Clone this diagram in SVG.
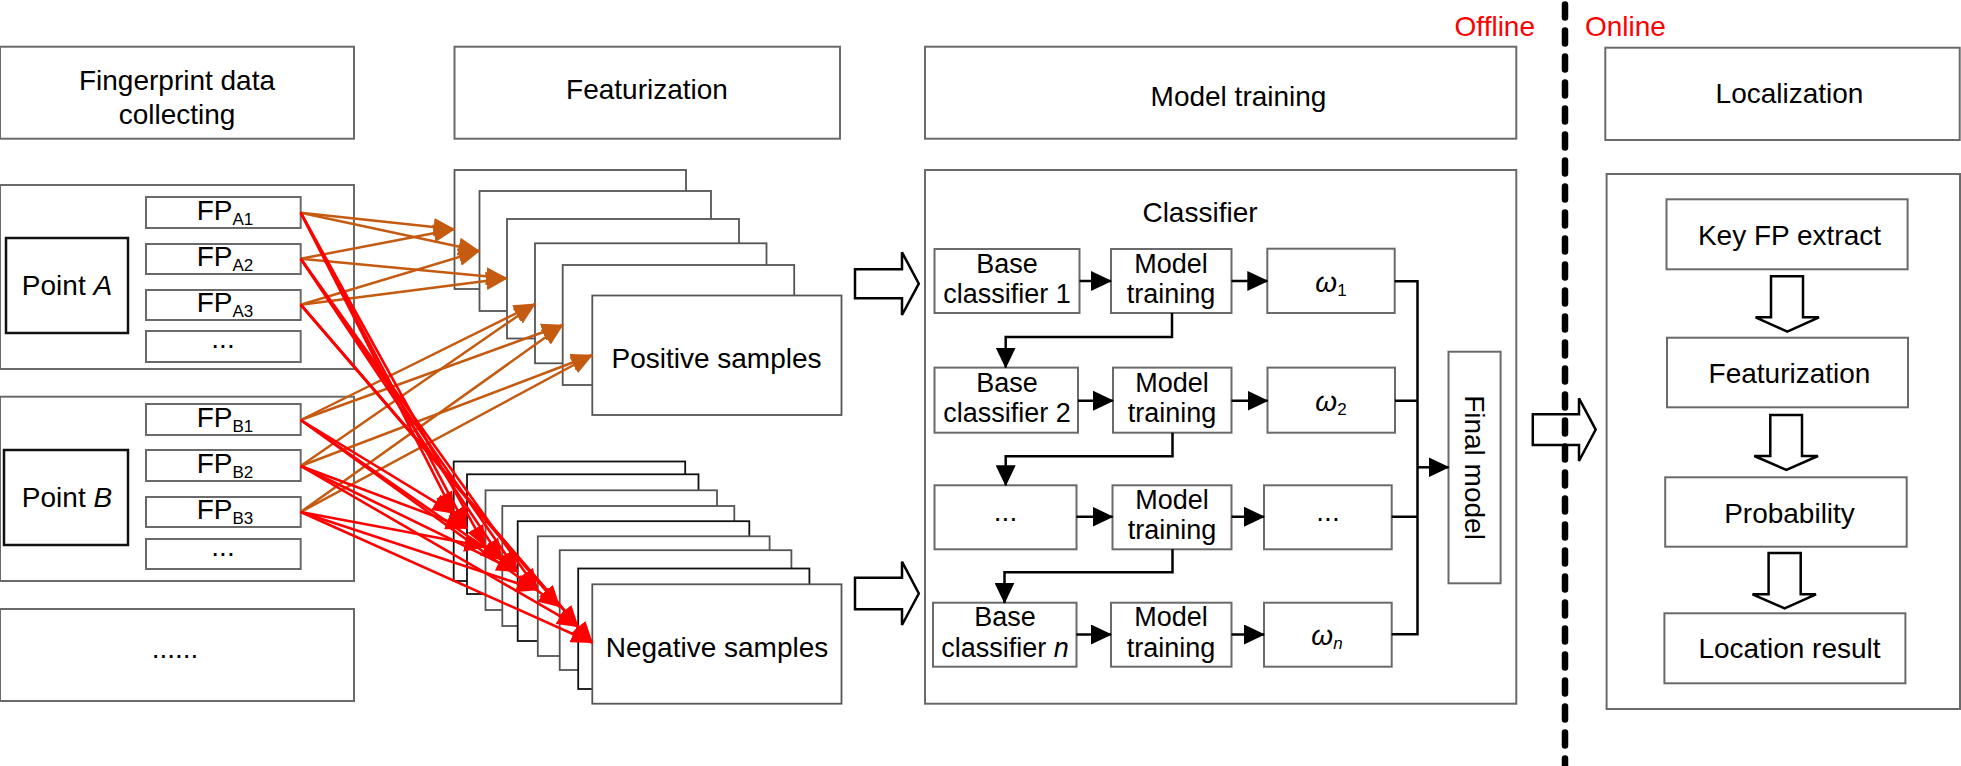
<svg xmlns="http://www.w3.org/2000/svg" width="1961" height="766" viewBox="0 0 1961 766">
<defs>
<style>
text{font-family:"Liberation Sans",Arial,Helvetica,sans-serif;font-size:28px;fill:#000}
.t2{font-size:27px}
.bx{fill:#fff;stroke:#6a6a6a;stroke-width:2}
.bk{fill:#fff;stroke:#111;stroke-width:2.5}
.st{fill:#fff;stroke:#555;stroke-width:1.8}
.c{text-anchor:middle}
.sub{font-size:17px}
.red{font-size:28px;fill:#ff0000}
.or{stroke:#c55a11;stroke-width:2.5;fill:none}
.rd{stroke:#ff0000;stroke-width:2.6;fill:none}
.blk{stroke:#000;stroke-width:2.5;fill:none}
.hol{fill:#fff;stroke:#000;stroke-width:2.5;stroke-linejoin:miter}
</style>
<marker id="mo" markerUnits="userSpaceOnUse" markerWidth="22" markerHeight="18" refX="21" refY="9" orient="auto"><path d="M0,0 L22,9 L0,18 Z" fill="#c55a11"/></marker>
<marker id="mr" markerUnits="userSpaceOnUse" markerWidth="22" markerHeight="18" refX="21" refY="9" orient="auto"><path d="M0,0 L22,9 L0,18 Z" fill="#ff0000"/></marker>
<marker id="mb" markerUnits="userSpaceOnUse" markerWidth="21" markerHeight="20" refX="20" refY="10" orient="auto"><path d="M0,0 L21,10 L0,20 Z" fill="#000"/></marker>
</defs>
<rect width="1961" height="766" fill="#fff"/>

<!-- Headers -->
<g id="h-collect"><rect class="bx" x="0" y="46.7" width="354" height="92"/><text class="c" x="177" y="90">Fingerprint data</text><text class="c" x="177" y="124">collecting</text></g>
<g id="h-feat"><rect class="bx" x="454.5" y="46.7" width="385.5" height="92"/><text class="c" x="647" y="99">Featurization</text></g>
<g id="h-train"><rect class="bx" x="925" y="46.7" width="591.3" height="92"/><text class="c" x="1238.5" y="106">Model training</text></g>
<g id="h-loc"><rect class="bx" x="1605.3" y="47.7" width="354.4" height="92.3"/><text class="c" x="1789.5" y="103.3">Localization</text></g>
<text class="red" x="1535" y="36" text-anchor="end">Offline</text>
<text class="red" x="1585" y="36">Online</text>

<!-- Point A -->
<g id="pointA">
<rect class="bx" x="0" y="185" width="354" height="184"/>
<rect class="bk" x="6" y="238" width="122" height="95"/>
<text class="c" x="67" y="295">Point <tspan font-style="italic">A</tspan></text>
<rect class="bx" x="146" y="197" width="154.7" height="31"/><text class="c" x="225" y="220">FP<tspan class="sub" dy="5">A1</tspan></text>
<rect class="bx" x="146" y="244" width="154.7" height="30"/><text class="c" x="225" y="266">FP<tspan class="sub" dy="5">A2</tspan></text>
<rect class="bx" x="146" y="290" width="154.7" height="30"/><text class="c" x="225" y="312">FP<tspan class="sub" dy="5">A3</tspan></text>
<rect class="bx" x="146" y="331" width="154.7" height="31"/><text class="c" x="223" y="348">...</text>
</g>
<!-- Point B -->
<g id="pointB">
<rect class="bx" x="0" y="396.7" width="354" height="184.3"/>
<rect class="bk" x="4" y="450" width="124" height="95"/>
<text class="c" x="67" y="507">Point <tspan font-style="italic">B</tspan></text>
<rect class="bx" x="146" y="404" width="154.7" height="31"/><text class="c" x="225" y="427">FP<tspan class="sub" dy="5">B1</tspan></text>
<rect class="bx" x="146" y="450" width="154.7" height="31"/><text class="c" x="225" y="473">FP<tspan class="sub" dy="5">B2</tspan></text>
<rect class="bx" x="146" y="497" width="154.7" height="30"/><text class="c" x="225" y="519">FP<tspan class="sub" dy="5">B3</tspan></text>
<rect class="bx" x="146" y="539" width="154.7" height="30"/><text class="c" x="223" y="556">...</text>
</g>
<g id="more"><rect class="bx" x="0" y="609" width="354" height="92"/><text class="c" x="175" y="658">......</text></g>

<!-- Positive samples stack -->
<g id="positive">
<rect class="st" x="454.5" y="170" width="231.5" height="119"/>
<rect class="st" x="479.5" y="191" width="231.5" height="120" stroke="#111"/>
<rect class="st" x="507" y="219" width="232" height="119.5"/>
<rect class="st" x="535" y="243.3" width="231.5" height="120"/>
<rect class="st" x="562.7" y="265" width="231.5" height="120"/>
<rect class="st" x="592.3" y="295.5" width="249.2" height="119.5"/>
<text class="c" x="716.5" y="368">Positive samples</text>
</g>

<!-- Negative samples stack -->
<g id="negative">
<rect class="st" x="453.7" y="461.5" width="231.5" height="119.5" style="stroke:#111"/>
<rect class="st" x="467" y="474.3" width="231.5" height="119.7" style="stroke:#111"/>
<rect class="st" x="485.5" y="490.3" width="231.5" height="119.7"/>
<rect class="st" x="502.3" y="506" width="232" height="120"/>
<rect class="st" x="517.7" y="521.2" width="231.6" height="119.8" style="stroke:#111"/>
<rect class="st" x="537.8" y="536.3" width="231.8" height="119.7"/>
<rect class="st" x="559.7" y="550.2" width="231.7" height="119.8"/>
<rect class="st" x="578.2" y="568.5" width="231.2" height="120.5" style="stroke:#111"/>
<rect class="st" x="592.3" y="584.3" width="249.2" height="119.4"/>
<text class="c" x="717" y="657">Negative samples</text>
</g>

<!-- Big hollow arrows -->
<g id="arrow-pos"><path class="hol" d="M855,269.3 L902,269.3 L902,252.3 L918.8,283.7 L902,315 L902,298.3 L855,298.3 Z"/></g>
<g id="arrow-neg"><path class="hol" d="M855,577.7 L902,577.7 L902,561.7 L918.8,593.5 L902,625 L902,609.3 L855,609.3 Z"/></g>

<!-- Model training -->
<g id="train-panel"><rect class="bx" x="925" y="170" width="591.3" height="533.7"/><text class="c" x="1200" y="222">Classifier</text></g>
<g id="bc1"><rect class="bx" x="934.5" y="249" width="145" height="64"/><text class="c t2" x="1007" y="272.5">Base</text><text class="c t2" x="1007" y="303">classifier 1</text></g>
<g id="mt1"><rect class="bx" x="1111" y="249" width="120.5" height="64"/><text class="c t2" x="1171" y="272.5">Model</text><text class="c t2" x="1171" y="303">training</text></g>
<g id="w1"><rect class="bx" x="1267.3" y="248.7" width="127.4" height="64.3"/><text class="c" x="1331" y="292"><tspan font-style="italic">ω</tspan><tspan class="sub" dy="4">1</tspan></text></g>
<g id="bc2"><rect class="bx" x="934.5" y="367.6" width="143.5" height="65.1"/><text class="c t2" x="1007" y="391.7">Base</text><text class="c t2" x="1007" y="422.2">classifier 2</text></g>
<g id="mt2"><rect class="bx" x="1113" y="367.6" width="118.5" height="65.1"/><text class="c t2" x="1172" y="391.7">Model</text><text class="c t2" x="1172" y="422.2">training</text></g>
<g id="w2"><rect class="bx" x="1267.5" y="367.6" width="127.5" height="65.1"/><text class="c" x="1331" y="411"><tspan font-style="italic">ω</tspan><tspan class="sub" dy="4">2</tspan></text></g>
<g id="bc3"><rect class="bx" x="934.5" y="485.3" width="142" height="64"/><text class="c" x="1005.5" y="521">...</text></g>
<g id="mt3"><rect class="bx" x="1112.5" y="485.3" width="119" height="64"/><text class="c t2" x="1172" y="508.8">Model</text><text class="c t2" x="1172" y="539.3">training</text></g>
<g id="w3"><rect class="bx" x="1264" y="485.3" width="127.7" height="64"/><text class="c" x="1328" y="521">...</text></g>
<g id="bcn"><rect class="bx" x="933" y="602.7" width="143.5" height="64"/><text class="c t2" x="1005" y="626.2">Base</text><text class="c t2" x="1005" y="656.7">classifier <tspan font-style="italic">n</tspan></text></g>
<g id="mtn"><rect class="bx" x="1111" y="602.7" width="120.5" height="64"/><text class="c t2" x="1171" y="626.2">Model</text><text class="c t2" x="1171" y="656.7">training</text></g>
<g id="wn"><rect class="bx" x="1264" y="602.7" width="127.7" height="64"/><text class="c" x="1327" y="645"><tspan font-style="italic">ω</tspan><tspan class="sub" font-style="italic" dy="4">n</tspan></text></g>
<g id="final"><rect class="bx" x="1448.5" y="351.7" width="52.1" height="231.6"/><text class="c" transform="translate(1465,467.5) rotate(90)" x="0" y="0">Final model</text></g>

<!-- Localization -->
<g id="loc-panel"><rect class="bx" x="1606.6" y="174" width="353.4" height="535"/></g>
<g id="keyfp"><rect class="bx" x="1666.5" y="199.3" width="241.1" height="70"/><text class="c" x="1789.5" y="245">Key FP extract</text></g>
<g id="feat2"><rect class="bx" x="1667" y="337.7" width="241" height="69.6"/><text class="c" x="1789.5" y="383">Featurization</text></g>
<g id="prob"><rect class="bx" x="1665.2" y="477.3" width="241.5" height="69.4"/><text class="c" x="1789.5" y="522.7">Probability</text></g>
<g id="locres"><rect class="bx" x="1664.4" y="613.3" width="241" height="70"/><text class="c" x="1789.5" y="657.7">Location result</text></g>
<g id="down-arrows">
<path class="hol" d="M1771,276.3 L1803,276.3 L1803,317.3 L1819,317.3 L1787.3,331.7 L1755.6,317.3 L1771,317.3 Z"/>
<path class="hol" d="M1770.3,415 L1802,415 L1802,456 L1818,456 L1786.4,470 L1754.3,456 L1770.3,456 Z"/>
<path class="hol" d="M1768.6,553 L1800.7,553 L1800.7,594.3 L1816,594.3 L1784.6,608.3 L1752.5,594.3 L1768.6,594.3 Z"/>
</g>
<g id="arrow-online"><path class="hol" d="M1532.8,414.3 L1579,414.3 L1579,398.3 L1595.7,429.6 L1579,461 L1579,445 L1532.8,445 Z"/></g>

<!-- Divider -->
<line x1="1565" y1="4.5" x2="1565" y2="766" stroke="#000" stroke-width="6.5" stroke-dasharray="13 13" stroke-linecap="round"/>

<!-- Connectors -->
<g id="connectors">
<g id="orange">
<path class="or" marker-end="url(#mo)" d="M300.7,212.7 L454.5,229.3"/>
<path class="or" marker-end="url(#mo)" d="M300.7,258.7 L454.5,229.3"/>
<path class="or" marker-end="url(#mo)" d="M300.7,212.7 L479.3,251"/>
<path class="or" marker-end="url(#mo)" d="M300.7,304.7 L479.3,251"/>
<path class="or" marker-end="url(#mo)" d="M300.7,258.7 L507,278.3"/>
<path class="or" marker-end="url(#mo)" d="M300.7,304.7 L507,278.3"/>
<path class="or" marker-end="url(#mo)" d="M300.7,420 L535,304"/>
<path class="or" marker-end="url(#mo)" d="M300.7,466 L535,304"/>
<path class="or" marker-end="url(#mo)" d="M300.7,420 L562.7,325"/>
<path class="or" marker-end="url(#mo)" d="M300.7,512 L562.7,325"/>
<path class="or" marker-end="url(#mo)" d="M300.7,466 L592.3,355"/>
<path class="or" marker-end="url(#mo)" d="M300.7,512 L592.3,355"/>
</g>
<g id="red">
<path class="rd" marker-end="url(#mr)" d="M300.7,212.7 L453.7,513.3"/>
<path class="rd" marker-end="url(#mr)" d="M300.7,212.7 L467,528.3"/>
<path class="rd" marker-end="url(#mr)" d="M300.7,212.7 L485.5,546.7"/>
<path class="rd" marker-end="url(#mr)" d="M300.7,258.7 L502.3,560"/>
<path class="rd" marker-end="url(#mr)" d="M300.7,258.7 L517.7,571.7"/>
<path class="rd" marker-end="url(#mr)" d="M300.7,258.7 L537.8,590"/>
<path class="rd" marker-end="url(#mr)" d="M300.7,304.7 L559.7,606.7"/>
<path class="rd" marker-end="url(#mr)" d="M300.7,304.7 L578.2,626.7"/>
<path class="rd" marker-end="url(#mr)" d="M300.7,304.7 L592.3,642.7"/>
<path class="rd" marker-end="url(#mr)" d="M300.7,420 L453.7,513.3"/>
<path class="rd" marker-end="url(#mr)" d="M300.7,420 L502.3,560"/>
<path class="rd" marker-end="url(#mr)" d="M300.7,420 L559.7,606.7"/>
<path class="rd" marker-end="url(#mr)" d="M300.7,466 L467,528.3"/>
<path class="rd" marker-end="url(#mr)" d="M300.7,466 L517.7,571.7"/>
<path class="rd" marker-end="url(#mr)" d="M300.7,466 L578.2,626.7"/>
<path class="rd" marker-end="url(#mr)" d="M300.7,512 L485.5,546.7"/>
<path class="rd" marker-end="url(#mr)" d="M300.7,512 L537.8,590"/>
<path class="rd" marker-end="url(#mr)" d="M300.7,512 L592.3,642.7"/>
</g>
<g id="black">
<path class="blk" marker-end="url(#mb)" d="M1079.5,281 L1111,281"/>
<path class="blk" marker-end="url(#mb)" d="M1231.5,281 L1267.3,281"/>
<path class="blk" marker-end="url(#mb)" d="M1078,400.7 L1113,400.7"/>
<path class="blk" marker-end="url(#mb)" d="M1231.5,400.7 L1267.5,400.7"/>
<path class="blk" marker-end="url(#mb)" d="M1076.5,516.7 L1112.5,516.7"/>
<path class="blk" marker-end="url(#mb)" d="M1231.5,516.7 L1264,516.7"/>
<path class="blk" marker-end="url(#mb)" d="M1076.5,634.5 L1111,634.5"/>
<path class="blk" marker-end="url(#mb)" d="M1231.5,634.5 L1264,634.5"/>
<path class="blk" marker-end="url(#mb)" d="M1172,313 L1172,337 L1005.7,337 L1005.7,367.6"/>
<path class="blk" marker-end="url(#mb)" d="M1172.5,432.7 L1172.5,456.3 L1005.7,456.3 L1005.7,485.3"/>
<path class="blk" marker-end="url(#mb)" d="M1172.5,549.3 L1172.5,572.3 L1004.5,572.3 L1004.5,602.7"/>
<path class="blk" d="M1394.7,281.3 L1417.5,281.3 L1417.5,634.3 L1391.7,634.3"/>
<path class="blk" d="M1395,400.7 L1417.5,400.7 M1391.7,516.7 L1417.5,516.7"/>
<path class="blk" marker-end="url(#mb)" d="M1417.5,467.3 L1448.5,467.3"/>
</g>
</g>
</svg>
